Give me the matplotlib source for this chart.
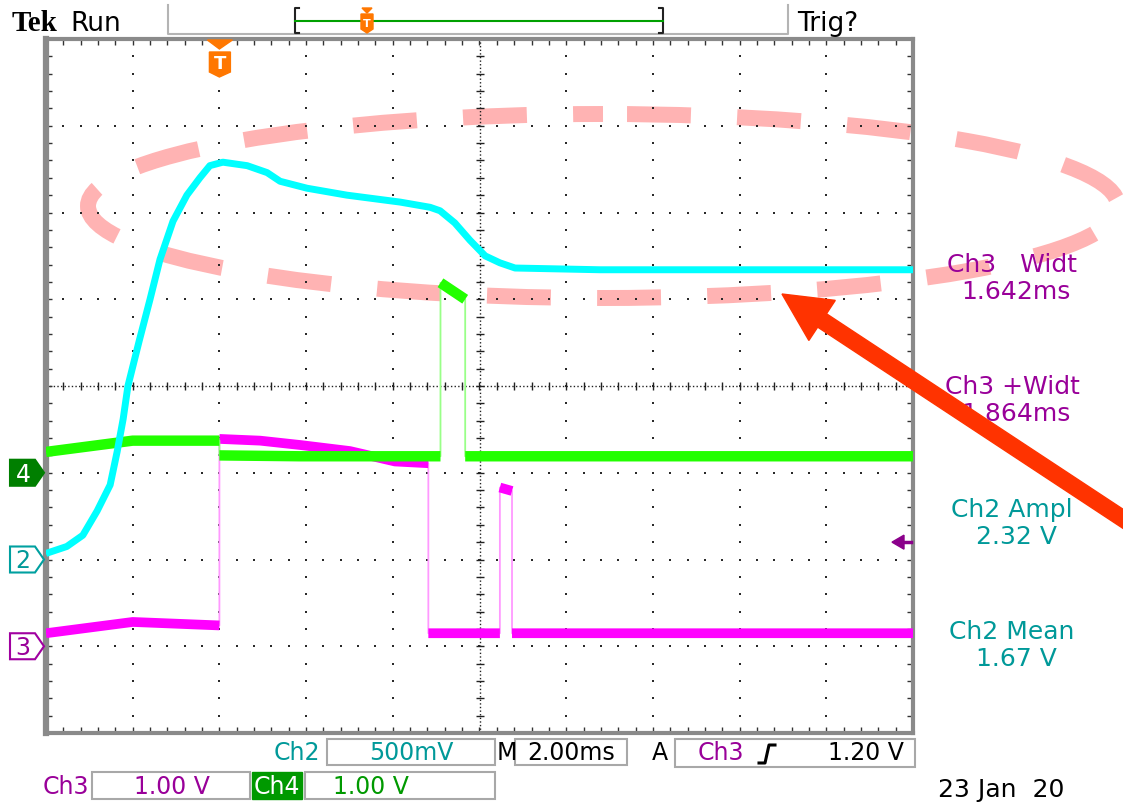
import numpy as np
import matplotlib
matplotlib.use('Agg')
import matplotlib.pyplot as plt
from matplotlib.patches import Ellipse, Polygon, Rectangle, FancyArrow
from matplotlib.transforms import Affine2D, Bbox, TransformedBbox
from matplotlib.lines import Line2D

plt.rcParams['lines.scale_dashes'] = False
plt.rcParams['font.family'] = 'DejaVu Sans'

W, H = 1123, 804

# Horizontal: 2 ms/div, trigger at t = 0, ten divisions
t_min, t_max, ms_div = -4.0, 16.0, 2.0

# Channel setup: volts per division and ground marker (divisions from centre)
ch2_scale, ch2_offset = 0.5, -2
ch3_scale, ch3_offset = 1.0, -3
ch4_scale, ch4_offset = 1.0, -1
trig_level = 1.20   # Ch3 rising edge

# Ch2 (cyan) - supply ramp
ch2_t = [-4.00, -3.52, -3.15, -2.82, -2.52, -2.36, -2.22, -2.11, -1.85, -1.60,
         -1.37, -1.07, -0.75, -0.45, -0.22, 0.08, 0.64, 1.10, 1.40, 2.02,
         2.94, 4.17, 4.86, 5.09, 5.43, 5.78, 6.13, 6.47, 6.82, 8.78, 16.0]
ch2_v = [0.035, 0.075, 0.14, 0.28, 0.43, 0.62, 0.81, 1.00, 1.26, 1.50,
         1.73, 1.95, 2.10, 2.20, 2.27, 2.29, 2.27, 2.23, 2.18, 2.14,
         2.10, 2.06, 2.03, 2.01, 1.94, 1.84, 1.75, 1.71, 1.68, 1.67, 1.67]

# Ch3 (magenta)
ch3_t = [-4.00, -2.00, 0.00, 0.00, 0.94, 1.86, 3.01, 4.05, 4.82, 4.82,
         6.47, 6.47, 6.75, 6.75, 16.0]
ch3_v = [0.15, 0.28, 0.24, 2.39, 2.37, 2.32, 2.25, 2.13, 2.11, 0.15,
         0.15, 1.83, 1.79, 0.15, 0.15]

# Ch4 (green)
ch4_t = [-4.00, -2.00, 0.00, 0.00, 1.86, 5.10, 5.10, 5.67, 5.67, 16.0]
ch4_v = [0.24, 0.37, 0.37, 0.20, 0.19, 0.19, 2.19, 2.00, 0.19, 0.19]

# Measurement readouts
meas_names = ['Ch3   Widt', 'Ch3 +Widt', 'Ch2 Ampl', 'Ch2 Mean']
meas_values = ['1.642ms', '1.864ms', '2.32 V', '1.67 V']
meas_colors = ['#990099', '#990099', '#009999', '#009999']

TEAL, PURPLE, DGREEN = '#009999', '#990099', '#009900'

fig = plt.figure(figsize=(W / 100, H / 100), dpi=100)
fig.patch.set_facecolor('white')

# pixel coordinates measured from the top-left corner
pix = Affine2D().scale(1 / W, -1 / H).translate(0, 1) + fig.transFigure

ax_l, ax_t, ax_w, ax_h = 46, 40, 867, 694
ax = fig.add_axes([ax_l / W, 1 - (ax_t + ax_h) / H, ax_w / W, ax_h / H])
ax.set_xlim(t_min, t_max)
ax.set_ylim(-4, 4)
ax.set_facecolor('none')


def x_px(t):
    return ax_l + (t - t_min) / (t_max - t_min) * ax_w


def y_px(d):
    return ax_t + (4 - d) / 8 * ax_h


# graticule: dots every 1/5 division on the major lines
minor_x = np.arange(t_min, t_max + 1e-9, ms_div / 5)
minor_y = np.arange(-4, 4 + 1e-9, 0.2)
t_mid = (t_min + t_max) / 2
for gx in np.arange(t_min + ms_div, t_max - 1e-9, ms_div):
    if abs(gx - t_mid) < 1e-9:
        continue
    ax.plot(np.full_like(minor_y, gx), minor_y, ls='none', marker='s', ms=1.7,
            mew=0, color='#2a2a2a', zorder=1)
for gy in range(-3, 4):
    if gy == 0:
        continue
    ax.plot(minor_x, np.full_like(minor_x, gy), ls='none', marker='s', ms=1.7,
            mew=0, color='#2a2a2a', zorder=1)

# centre cross with tick marks
ax.axvline(t_mid, color='#222222', lw=1, ls=(0, (1, 1.6)), zorder=1)
ax.axhline(0, color='#222222', lw=1, ls=(0, (1, 1.6)), zorder=1)
ax.plot(minor_x, np.zeros_like(minor_x), ls='none', marker='|', ms=6, mew=1,
        color='#222222', zorder=1)
ax.plot(np.full_like(minor_y, t_mid), minor_y, ls='none', marker='_', ms=6,
        mew=1, color='#222222', zorder=1)

ax.set_xticks(minor_x)
ax.set_yticks(minor_y)
ax.set_xticklabels([])
ax.set_yticklabels([])
ax.tick_params(direction='in', length=4, width=1, color='#333333',
               top=True, right=True)
for side, sp in ax.spines.items():
    sp.set_color('#8a8a8a')
    sp.set_linewidth(4.5 if side == 'left' else 3)


def band(t, y):
    # break the thick trace at vertical edges
    tt, yy = [t[0]], [y[0]]
    for i in range(1, len(t)):
        if t[i] == t[i - 1]:
            tt.append(np.nan)
            yy.append(np.nan)
        tt.append(t[i])
        yy.append(y[i])
    return tt, yy


traces = [
    (ch3_t, ch3_v, ch3_scale, ch3_offset, '#ff00ff', '#ff99ff', 7.0),
    (ch4_t, ch4_v, ch4_scale, ch4_offset, '#22ff00', '#99ff88', 7.5),
    (ch2_t, ch2_v, ch2_scale, ch2_offset, '#00ffff', '#00ffff', 5.0),
]
for i, (t, v, sc, off, col, pale, lw) in enumerate(traces):
    y = list(np.asarray(v) / sc + off)
    ax.plot(t, y, color=pale, lw=1.3, zorder=3 + i)
    bt, by = band(t, y)
    ax.plot(bt, by, color=col, lw=lw, solid_capstyle='butt', zorder=3 + i)

# highlight ellipse behind everything
ell = Ellipse((603, 207), 1030, 184, transform=pix, fill=False, ec='#ffb3b3',
              lw=11.5, ls=(62, (46, 33.3)), zorder=-1)
fig.add_artist(ell)


def ftext(x, y, s, **kw):
    kw.setdefault('ha', 'center')
    kw.setdefault('va', 'center')
    return fig.text(x, y, s, transform=pix, **kw)


def fline(xs, ys, **kw):
    fig.add_artist(Line2D(xs, ys, transform=pix, **kw))


def fpoly(pts, **kw):
    fig.add_artist(Polygon(pts, closed=True, transform=pix, **kw))


# header
ftext(12, 31, 'Tek', ha='left', va='baseline', fontsize=21,
      family='Liberation Serif', fontweight='bold')
ftext(70, 31, 'Run', ha='left', va='baseline', fontsize=19)
ftext(797, 31, 'Trig?', ha='left', va='baseline', fontsize=19)
fline([168, 168, 788, 788], [6, 35, 35, 6], color='#b4b4b4', lw=1.5)
fline([299, 295, 295, 299], [9, 9, 34, 34], color='#222222', lw=1.5)
fline([659, 663, 663, 659], [9, 9, 34, 34], color='#222222', lw=1.5)
fline([295, 663], [22, 22], color='#00a000', lw=1.5)

ORANGE = '#ff7700'
# record position marker in the header
fpoly([(362, 9), (372, 9), (367, 14)], color=ORANGE, zorder=5)
fpoly([(361, 15), (373, 15), (373, 30), (367, 34), (361, 30)], color=ORANGE,
      zorder=5)
ftext(367, 24, 'T', color='white', fontsize=8, fontweight='bold', zorder=6)

# trigger position marker
tx = x_px(0.0)
fpoly([(tx - 12, 41), (tx + 13, 41), (tx, 50)], color=ORANGE, zorder=5)
fpoly([(tx - 10, 53), (tx + 11, 53), (tx + 11, 73), (tx, 78), (tx - 10, 73)],
      color=ORANGE, zorder=5)
ftext(tx + 0.5, 64, 'T', color='white', fontsize=13, fontweight='bold',
      zorder=6)

# channel ground markers
for label, off, fc, ec, tc in [('4', ch4_offset, '#007f00', '#007f00', 'white'),
                               ('2', ch2_offset, 'white', '#00a0a0', TEAL),
                               ('3', ch3_offset, 'white', '#a000a0', PURPLE)]:
    yc = y_px(off)
    fpoly([(10, yc - 13), (35, yc - 13), (44, yc), (35, yc + 13), (10, yc + 13)],
          fc=fc, ec=ec, lw=1.5, zorder=5)
    ftext(23, yc + 1, label, color=tc, fontsize=17, zorder=6)

# trigger level marker on the right edge
ty = y_px(ch3_offset + trig_level / ch3_scale)
fpoly([(892, ty), (904, ty - 7), (904, ty + 7)], color='#8b008b', zorder=5)
fline([903, 911], [ty, ty], color='#8b008b', lw=2.5, zorder=5)

# measurement readouts
for i, (nm, val, col) in enumerate(zip(meas_names, meas_values, meas_colors)):
    yb = 265 + i * 122.5
    ftext(1012, yb, nm, color=col, fontsize=18)
    ftext(1016, yb + 27, val, color=col, fontsize=18)

# bottom status bar
BOX = dict(fill=False, ec='#a8a8a8', lw=1.5, transform=pix)
for (x, y, w, h) in [(327, 740, 168, 26), (515, 740, 112, 26),
                     (675, 740, 240, 28), (92, 773, 158, 27),
                     (305, 773, 190, 27)]:
    fig.add_artist(Rectangle((x, y), w, h, **BOX))
fig.add_artist(Rectangle((252, 773), 50, 27, transform=pix, color=DGREEN))

FS = 17
ftext(297, 753, 'Ch2', color=TEAL, fontsize=FS)
ftext(411, 753, f'{ch2_scale * 1000:.0f}mV', color=TEAL, fontsize=FS)
ftext(507, 753, 'M', fontsize=FS)
ftext(571, 753, f'{ms_div:.2f}ms', fontsize=FS)
ftext(660, 753, 'A', fontsize=FS)
ftext(721, 753, 'Ch3', color=PURPLE, fontsize=FS)
fline([759, 765, 769, 775], [764, 764, 746, 746], color='black', lw=2.2)
ftext(866, 753, f'{trig_level:.2f} V', fontsize=FS)

ftext(66, 787, 'Ch3', color=PURPLE, fontsize=FS)
ftext(172, 787, f'{ch3_scale:.2f} V', color=PURPLE, fontsize=FS)
ftext(277, 787, 'Ch4', color='white', fontsize=FS)
ftext(371, 787, f'{ch4_scale:.2f} V', color=DGREEN, fontsize=FS)

# date line runs off the screen edge
date = ftext(938, 790, '23 Jan  2007', ha='left', fontsize=18)
date.set_clip_box(TransformedBbox(Bbox([[0, 0], [1064 / W, 1]]),
                                  fig.transFigure))
date.set_clip_on(True)

# pointer arrow on top
arrow = FancyArrow(1140, 531, 782 - 1140, 295 - 531, width=16, head_width=48,
                   head_length=48, length_includes_head=True, transform=pix,
                   color='#ff3300', zorder=8)
fig.add_artist(arrow)

fig.savefig('out.png', dpi=100, facecolor='white')
